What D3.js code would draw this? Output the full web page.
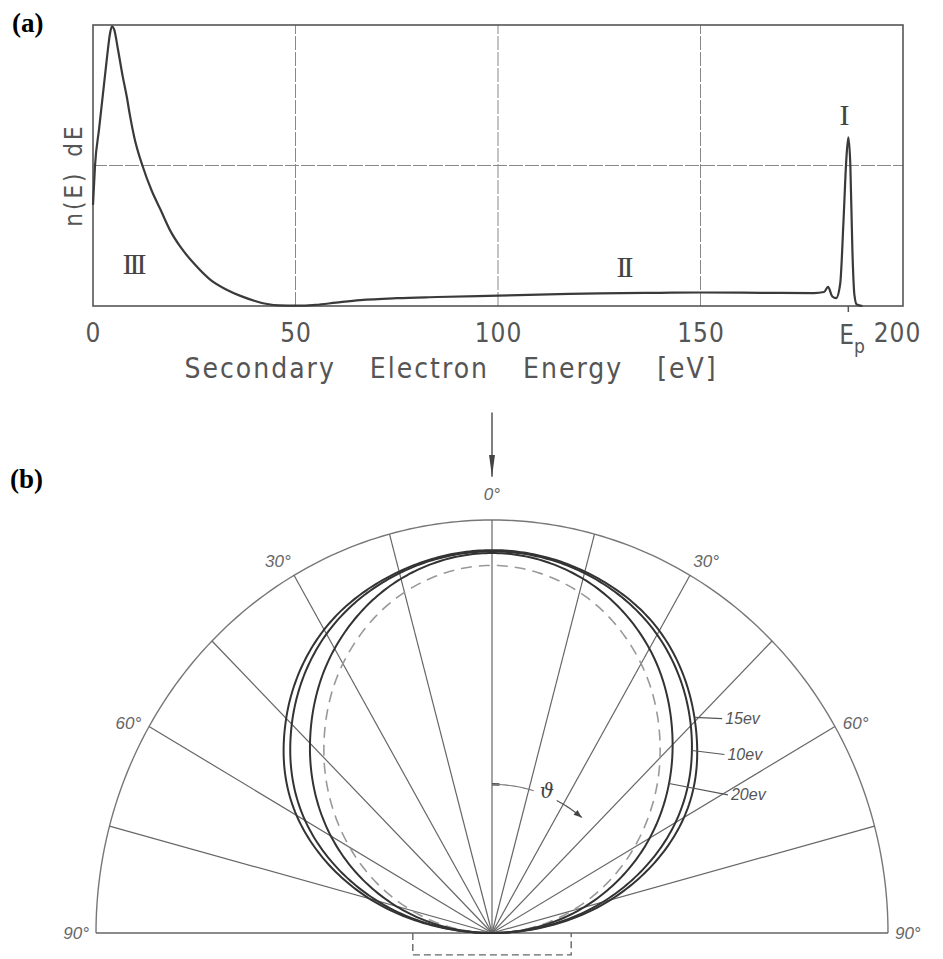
<!DOCTYPE html>
<html>
<head>
<meta charset="utf-8">
<script src="https://cdn.jsdelivr.net/npm/d3@7"></script>
<style>
  body { margin: 0; background: #fff; }
  svg { display: block; }
</style>
</head>
<body>
<svg width="943" height="959"></svg>
<script>
// ---- (a) energy spectrum of emitted electrons ----
const energy = [0, 0.5, 1.5, 2.5, 3.5, 4.2, 4.7, 5.2, 6.2, 7.3, 8.4, 9.1, 10.2, 12.2, 14.5, 16.6, 19, 21.6, 25, 29, 33, 36.4, 40, 43, 46, 50, 55, 60, 66, 75, 85, 100, 115, 125, 140, 150, 165, 178, 180.5, 181.5, 182.5, 183.5, 184.5, 185.3, 186, 186.5, 187, 187.5, 188, 188.6, 190]
const counts = [0.36, 0.5, 0.63, 0.76, 0.89, 0.97, 0.995, 0.985, 0.91, 0.82, 0.74, 0.68, 0.6, 0.5, 0.41, 0.345, 0.27, 0.21, 0.15, 0.093, 0.058, 0.036, 0.018, 0.007, 0.002, 0.001, 0.004, 0.012, 0.021, 0.028, 0.032, 0.037, 0.042, 0.045, 0.047, 0.048, 0.047, 0.046, 0.05, 0.068, 0.035, 0.028, 0.08, 0.3, 0.52, 0.6, 0.5, 0.2, 0.04, 0.005, 0]
const energyTicks = [0, 50, 100, 150, 200]
const epEnergy = 186.5
const regionNames = ["III", "II", "I"]
const regionEnergy = [9.9, 131, 185.2]
const regionLevel = [0.153, 0.139, 0.68]

// ---- (b) angular distribution (polar) ----
const lobeAngles = [-90, -75, -60, -45, -30, -15, 0, 15, 30, 45, 60, 75, 90]
const lobe15 = [0, 0.32, 0.57, 0.735, 0.848, 0.906, 0.927, 0.906, 0.845, 0.725, 0.56, 0.31, 0]
const lobe10 = [0, 0.3, 0.545, 0.715, 0.836, 0.902, 0.924, 0.902, 0.834, 0.71, 0.535, 0.29, 0]
const lobe20 = [0, 0.25, 0.47, 0.65, 0.795, 0.888, 0.92, 0.888, 0.795, 0.645, 0.46, 0.24, 0]
const lobeCos = [0, 0.21, 0.415, 0.6, 0.753, 0.854, 0.89, 0.854, 0.753, 0.6, 0.415, 0.21, 0]
const spokeAngles = [-75, -60, -45, -30, -15, 0, 15, 30, 45, 60, 75]
const angleLabels = ["90°", "60°", "30°", "0°", "30°", "60°", "90°"]
const angleLabelAt = [-90, -61, -31, 0, 31, 61, 90]
const evLabels = ["15ev", "10ev", "20ev"]
const evCurveAngle = [44.4, 48.8, 51]
const evLabelAngle = [48.6, 54, 61]
const evLabelRadius = [0.785, 0.735, 0.69]

const svg = d3.select("svg")
const sans = "'DejaVu Sans Condensed', 'DejaVu Sans', sans-serif"

// =================== panel (a) ===================
const x = d3.scaleLinear().domain([0, 200]).range([93, 903])
const y = d3.scaleLinear().domain([0, 1]).range([306, 25])

const ga = svg.append("g")

ga.append("text")
  .attr("x", 12).attr("y", 32)
  .attr("font-family", "'Liberation Serif', serif")
  .attr("font-weight", "bold")
  .attr("font-size", 27)
  .text("(a)")

// grid
ga.append("g")
  .selectAll("line")
  .data([50, 100, 150])
  .join("line")
  .attr("x1", (d) => x(d)).attr("x2", (d) => x(d))
  .attr("y1", y(0)).attr("y2", y(1))
  .attr("stroke", "#888").attr("stroke-width", 1)
  .attr("stroke-dasharray", "14,2")

ga.append("line")
  .attr("x1", x(0)).attr("x2", x(200))
  .attr("y1", y(0.5)).attr("y2", y(0.5))
  .attr("stroke", "#888").attr("stroke-width", 1)
  .attr("stroke-dasharray", "14,2")

// frame
ga.append("rect")
  .attr("x", x(0)).attr("y", y(1))
  .attr("width", x(200) - x(0)).attr("height", y(0) - y(1))
  .attr("fill", "none").attr("stroke", "#555").attr("stroke-width", 1.6)

// spectrum
const spectrum = energy.map((e, i) => [e, counts[i]])
ga.append("path")
  .datum(spectrum)
  .attr("fill", "none")
  .attr("stroke", "#3a3a3a")
  .attr("stroke-width", 2.2)
  .attr("stroke-linejoin", "round")
  .attr("d", d3.line().x((d) => x(d[0])).y((d) => y(d[1])).curve(d3.curveMonotoneX))

// x axis labels
const xAxis = ga.append("g")
  .attr("transform", "translate(0," + y(0) + ")")
  .call(d3.axisBottom(x).tickValues(energyTicks).tickSize(0).tickPadding(18))
xAxis.select(".domain").remove()
xAxis.selectAll("text")
  .attr("font-family", sans)
  .attr("font-size", 26)
  .attr("letter-spacing", 1)
  .attr("fill", "#555")
xAxis.selectAll(".tick").filter((d) => d === 200).select("text").attr("dx", -6)

ga.append("line")
  .attr("x1", x(epEnergy)).attr("x2", x(epEnergy))
  .attr("y1", y(0)).attr("y2", y(0) + 6)
  .attr("stroke", "#555").attr("stroke-width", 1.5)

const ep = ga.append("text")
  .attr("x", x(epEnergy) - 9).attr("y", y(0) + 38)
  .attr("font-family", sans).attr("font-size", 26).attr("fill", "#555")
ep.append("tspan").text("E")
ep.append("tspan").attr("dy", 9).attr("font-size", 19).text("p")

ga.append("text")
  .attr("x", 451).attr("y", 378)
  .attr("text-anchor", "middle")
  .attr("font-family", sans).attr("font-size", 28).attr("fill", "#555")
  .attr("letter-spacing", 2)
  .attr("word-spacing", 24)
  .text("Secondary Electron Energy [eV]")

ga.append("text")
  .attr("transform", "translate(82,175) rotate(-90)")
  .attr("text-anchor", "middle")
  .attr("font-family", sans).attr("font-size", 24).attr("fill", "#555")
  .attr("letter-spacing", 3)
  .attr("word-spacing", 4)
  .text("n(E) dE")

ga.append("g")
  .selectAll("text")
  .data(regionNames)
  .join("text")
  .attr("x", (d, i) => x(regionEnergy[i]))
  .attr("y", (d, i) => y(regionLevel[i]))
  .attr("dy", "0.35em")
  .attr("text-anchor", "middle")
  .attr("font-family", "'Liberation Serif', serif")
  .attr("font-size", 30)
  .attr("letter-spacing", -3)
  .attr("fill", "#444")
  .text((d) => d)

// =================== panel (b) ===================
const px = d3.scaleLinear().domain([-1, 1]).range([96, 888])
const py = d3.scaleLinear().domain([0, 1]).range([933, 520])
const rad = (deg) => (deg * Math.PI) / 180
const pt = (r, deg) => [px(r * Math.sin(rad(deg))), py(r * Math.cos(rad(deg)))]

// smooth r(angle) through the read values (1D Catmull-Rom)
const smoothR = (vals, a) => {
  const n = vals.length
  const f = (a - lobeAngles[0]) / 15
  const j = Math.min(n - 2, Math.max(0, Math.floor(f)))
  const t = f - j
  const get = (k) => (k < 0 ? -vals[-k] : k > n - 1 ? -vals[2 * (n - 1) - k] : vals[k])
  const p0 = get(j - 1), p1 = get(j), p2 = get(j + 1), p3 = get(j + 2)
  return 0.5 * (2 * p1 + (-p0 + p2) * t + (2 * p0 - 5 * p1 + 4 * p2 - p3) * t * t + (-p0 + 3 * p1 - 3 * p2 + p3) * t * t * t)
}

const gb = svg.append("g")

gb.append("text")
  .attr("x", 10).attr("y", 488)
  .attr("font-family", "'Liberation Serif', serif")
  .attr("font-weight", "bold")
  .attr("font-size", 27)
  .text("(b)")

const defs = svg.append("defs")
defs.append("marker")
  .attr("id", "beam").attr("viewBox", "0 0 22 6")
  .attr("refX", 22).attr("refY", 3)
  .attr("markerWidth", 22).attr("markerHeight", 6)
  .attr("markerUnits", "userSpaceOnUse")
  .attr("orient", "auto")
  .append("path").attr("d", "M0,0 L22,3 L0,6 Z").attr("fill", "#444")
defs.append("marker")
  .attr("id", "theta").attr("viewBox", "0 0 10 10")
  .attr("refX", 10).attr("refY", 5)
  .attr("markerWidth", 10).attr("markerHeight", 8)
  .attr("markerUnits", "userSpaceOnUse")
  .attr("orient", "auto")
  .append("path").attr("d", "M0,1 L10,5 L0,9 Z").attr("fill", "#444")

// incident beam
gb.append("line")
  .attr("x1", px(0)).attr("x2", px(0))
  .attr("y1", py(1.26)).attr("y2", py(1.105))
  .attr("stroke", "#555").attr("stroke-width", 1.5)
  .attr("marker-end", "url(#beam)")

// outer arc and baseline
const arcLine = d3.line()
gb.append("path")
  .attr("d", arcLine(d3.range(-90, 90.5, 1).map((a) => pt(1, a))))
  .attr("fill", "none").attr("stroke", "#777").attr("stroke-width", 1.4)
gb.append("line")
  .attr("x1", px(-1)).attr("x2", px(1))
  .attr("y1", py(0)).attr("y2", py(0))
  .attr("stroke", "#666").attr("stroke-width", 1.6)

// spokes
gb.append("g")
  .selectAll("line")
  .data(spokeAngles)
  .join("line")
  .attr("x1", px(0)).attr("y1", py(0))
  .attr("x2", (d) => pt(1, d)[0]).attr("y2", (d) => pt(1, d)[1])
  .attr("stroke", "#666").attr("stroke-width", 1.2)

// sample (dashed box)
gb.append("path")
  .attr("d", "M" + px(-0.2) + "," + py(0) + "V" + py(-0.053) + "H" + px(0.2) + "V" + py(0))
  .attr("fill", "none").attr("stroke", "#666").attr("stroke-width", 1.4)
  .attr("stroke-dasharray", "7,4")

// lobes
const lobePath = (vals) => arcLine(d3.range(-90, 90.25, 0.5).map((a) => pt(Math.max(0, smoothR(vals, a)), a)))

gb.append("path")
  .attr("d", lobePath(lobeCos))
  .attr("fill", "none").attr("stroke", "#999").attr("stroke-width", 1.6)
  .attr("stroke-dasharray", "11,7")

gb.append("g")
  .selectAll("path")
  .data([lobe20, lobe10, lobe15])
  .join("path")
  .attr("d", (d) => lobePath(d))
  .attr("fill", "none").attr("stroke", "#333").attr("stroke-width", 2)

// angle labels
gb.append("g")
  .selectAll("text")
  .data(angleLabels)
  .join("text")
  .attr("x", (d, i) => pt(1.05, angleLabelAt[i])[0])
  .attr("y", (d, i) => pt(1.05, angleLabelAt[i])[1] - (angleLabelAt[i] === 0 ? 5 : 0))
  .attr("dy", "0.35em")
  .attr("text-anchor", "middle")
  .attr("font-family", "'Liberation Sans', sans-serif")
  .attr("font-style", "italic")
  .attr("font-size", 17)
  .attr("fill", "#666")
  .text((d) => d)

// energy labels with leaders
const lobeAt = [lobe15, lobe10, lobe20]
const evG = gb.append("g")
evLabels.forEach((lab, i) => {
  const c = pt(smoothR(lobeAt[i], evCurveAngle[i]), evCurveAngle[i])
  const l = pt(evLabelRadius[i], evLabelAngle[i])
  evG.append("line")
    .attr("x1", c[0]).attr("y1", c[1])
    .attr("x2", l[0] - 3).attr("y2", l[1])
    .attr("stroke", "#555").attr("stroke-width", 1.1)
  evG.append("text")
    .attr("x", l[0]).attr("y", l[1])
    .attr("dy", "0.35em")
    .attr("font-family", "'Liberation Sans', sans-serif")
    .attr("font-style", "italic")
    .attr("font-size", 16)
    .attr("fill", "#555")
    .text(lab)
})

// theta annotation
const thetaR = 0.36
gb.append("line")
  .attr("x1", pt(thetaR, 0)[0]).attr("y1", pt(thetaR, 0)[1])
  .attr("x2", pt(thetaR, 3)[0]).attr("y2", pt(thetaR, 3)[1])
  .attr("stroke", "#444").attr("stroke-width", 2.5)
gb.append("path")
  .attr("d", arcLine(d3.range(0, 17.5, 1).map((a) => pt(thetaR, a))))
  .attr("fill", "none").attr("stroke", "#777").attr("stroke-width", 1.1)
gb.append("path")
  .attr("d", arcLine(d3.range(27, 39.5, 1).map((a) => pt(thetaR, a))))
  .attr("fill", "none").attr("stroke", "#555").attr("stroke-width", 1.3)
  .attr("marker-end", "url(#theta)")
gb.append("text")
  .attr("x", pt(0.37, 22)[0]).attr("y", pt(0.37, 22)[1])
  .attr("dy", "0.35em")
  .attr("text-anchor", "middle")
  .attr("font-family", "'DejaVu Serif', serif")
  .attr("font-style", "italic")
  .attr("font-size", 20)
  .attr("fill", "#444")
  .text("ϑ")
</script>
</body>
</html>
